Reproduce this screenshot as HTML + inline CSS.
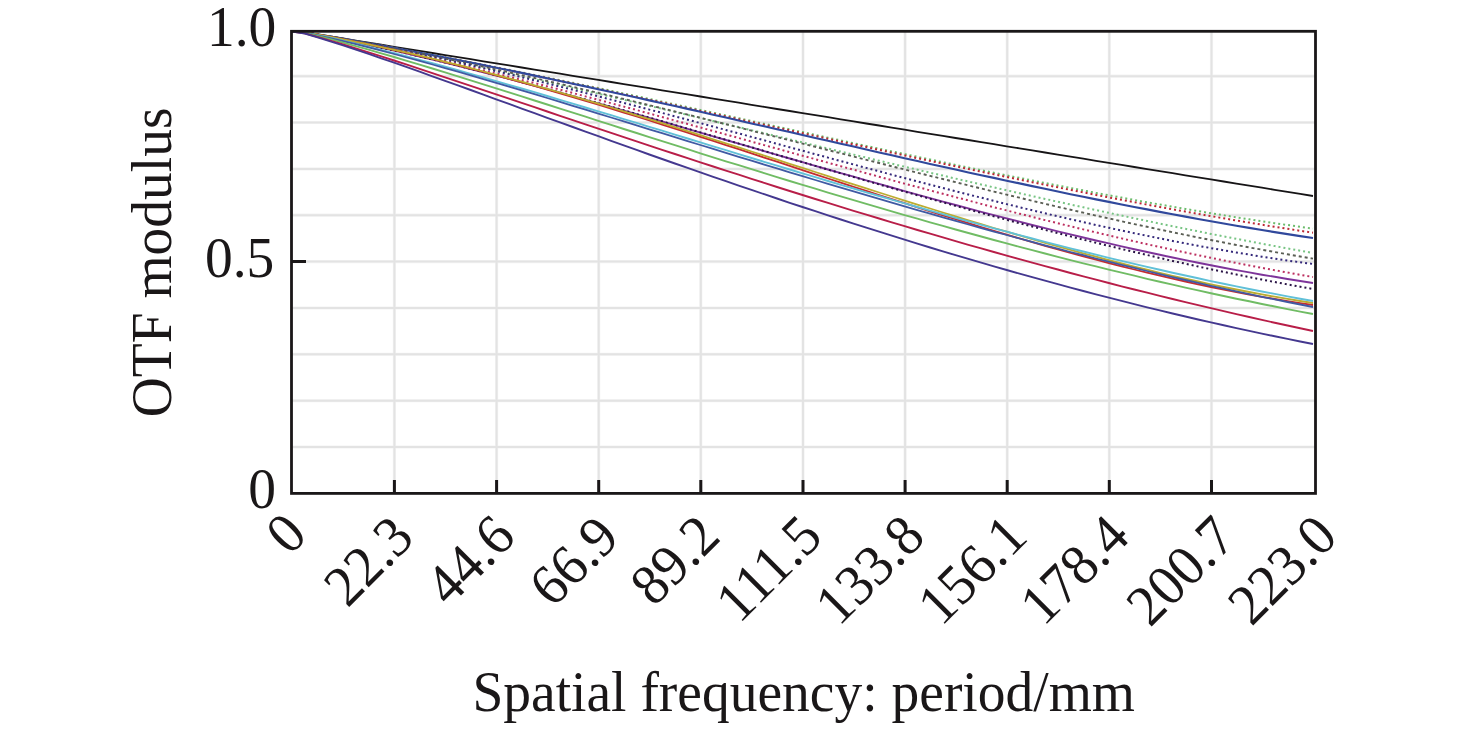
<!DOCTYPE html>
<html><head><meta charset="utf-8"><style>
html,body{margin:0;padding:0;background:#fff;}
body{width:1476px;height:729px;overflow:hidden;}
svg{display:block;}
.t{font-family:"Liberation Serif",serif;font-size:55.5px;fill:#1a1718;}
.x{font-family:"Liberation Serif",serif;font-size:55.5px;fill:#1a1718;}
</style></head><body>
<svg width="1476" height="729" viewBox="0 0 1476 729">
<line x1="394.4" y1="31.3" x2="394.4" y2="493.4" stroke="#f4f4f4" stroke-width="3.2"/>
<line x1="496.6" y1="31.3" x2="496.6" y2="493.4" stroke="#f4f4f4" stroke-width="3.2"/>
<line x1="598.7" y1="31.3" x2="598.7" y2="493.4" stroke="#f4f4f4" stroke-width="3.2"/>
<line x1="700.8" y1="31.3" x2="700.8" y2="493.4" stroke="#f4f4f4" stroke-width="3.2"/>
<line x1="803.0" y1="31.3" x2="803.0" y2="493.4" stroke="#f4f4f4" stroke-width="3.2"/>
<line x1="905.1" y1="31.3" x2="905.1" y2="493.4" stroke="#f4f4f4" stroke-width="3.2"/>
<line x1="1007.2" y1="31.3" x2="1007.2" y2="493.4" stroke="#f4f4f4" stroke-width="3.2"/>
<line x1="1109.3" y1="31.3" x2="1109.3" y2="493.4" stroke="#f4f4f4" stroke-width="3.2"/>
<line x1="1211.5" y1="31.3" x2="1211.5" y2="493.4" stroke="#f4f4f4" stroke-width="3.2"/>
<line x1="291.5" y1="76.2" x2="1315.5" y2="76.2" stroke="#f4f4f4" stroke-width="3.2"/>
<line x1="291.5" y1="122.5" x2="1315.5" y2="122.5" stroke="#f4f4f4" stroke-width="3.2"/>
<line x1="291.5" y1="168.9" x2="1315.5" y2="168.9" stroke="#f4f4f4" stroke-width="3.2"/>
<line x1="291.5" y1="215.2" x2="1315.5" y2="215.2" stroke="#f4f4f4" stroke-width="3.2"/>
<line x1="291.5" y1="261.6" x2="1315.5" y2="261.6" stroke="#f4f4f4" stroke-width="3.2"/>
<line x1="291.5" y1="308.0" x2="1315.5" y2="308.0" stroke="#f4f4f4" stroke-width="3.2"/>
<line x1="291.5" y1="354.3" x2="1315.5" y2="354.3" stroke="#f4f4f4" stroke-width="3.2"/>
<line x1="291.5" y1="400.7" x2="1315.5" y2="400.7" stroke="#f4f4f4" stroke-width="3.2"/>
<line x1="291.5" y1="447.0" x2="1315.5" y2="447.0" stroke="#f4f4f4" stroke-width="3.2"/>
<line x1="394.4" y1="31.3" x2="394.4" y2="493.4" stroke="#e3e3e3" stroke-width="2"/>
<line x1="496.6" y1="31.3" x2="496.6" y2="493.4" stroke="#e3e3e3" stroke-width="2"/>
<line x1="598.7" y1="31.3" x2="598.7" y2="493.4" stroke="#e3e3e3" stroke-width="2"/>
<line x1="700.8" y1="31.3" x2="700.8" y2="493.4" stroke="#e3e3e3" stroke-width="2"/>
<line x1="803.0" y1="31.3" x2="803.0" y2="493.4" stroke="#e3e3e3" stroke-width="2"/>
<line x1="905.1" y1="31.3" x2="905.1" y2="493.4" stroke="#e3e3e3" stroke-width="2"/>
<line x1="1007.2" y1="31.3" x2="1007.2" y2="493.4" stroke="#e3e3e3" stroke-width="2"/>
<line x1="1109.3" y1="31.3" x2="1109.3" y2="493.4" stroke="#e3e3e3" stroke-width="2"/>
<line x1="1211.5" y1="31.3" x2="1211.5" y2="493.4" stroke="#e3e3e3" stroke-width="2"/>
<line x1="291.5" y1="76.2" x2="1315.5" y2="76.2" stroke="#e3e3e3" stroke-width="2"/>
<line x1="291.5" y1="122.5" x2="1315.5" y2="122.5" stroke="#e3e3e3" stroke-width="2"/>
<line x1="291.5" y1="168.9" x2="1315.5" y2="168.9" stroke="#e3e3e3" stroke-width="2"/>
<line x1="291.5" y1="215.2" x2="1315.5" y2="215.2" stroke="#e3e3e3" stroke-width="2"/>
<line x1="291.5" y1="261.6" x2="1315.5" y2="261.6" stroke="#e3e3e3" stroke-width="2"/>
<line x1="291.5" y1="308.0" x2="1315.5" y2="308.0" stroke="#e3e3e3" stroke-width="2"/>
<line x1="291.5" y1="354.3" x2="1315.5" y2="354.3" stroke="#e3e3e3" stroke-width="2"/>
<line x1="291.5" y1="400.7" x2="1315.5" y2="400.7" stroke="#e3e3e3" stroke-width="2"/>
<line x1="291.5" y1="447.0" x2="1315.5" y2="447.0" stroke="#e3e3e3" stroke-width="2"/>
<polyline points="292.0,31.5 304.8,32.3 317.5,34.3 330.3,36.4 343.1,38.5 355.8,40.6 368.6,42.6 381.3,44.7 394.1,46.8 406.9,48.9 419.6,50.9 432.4,53.0 445.1,55.1 457.9,57.1 470.7,59.2 483.4,61.3 496.2,63.4 509.0,65.4 521.7,67.5 534.5,69.6 547.2,71.7 560.0,73.7 572.8,75.8 585.5,77.9 598.3,79.9 611.1,82.0 623.8,84.1 636.6,86.2 649.3,88.2 662.1,90.3 674.9,92.4 687.6,94.4 700.4,96.5 713.2,98.6 725.9,100.7 738.7,102.7 751.5,104.8 764.2,106.9 777.0,109.0 789.7,111.0 802.5,113.1 815.3,115.2 828.0,117.2 840.8,119.3 853.6,121.4 866.3,123.5 879.1,125.5 891.8,127.6 904.6,129.7 917.4,131.8 930.1,133.8 942.9,135.9 955.6,138.0 968.4,140.0 981.2,142.1 993.9,144.2 1006.7,146.3 1019.5,148.3 1032.2,150.4 1045.0,152.5 1057.8,154.6 1070.5,156.6 1083.3,158.7 1096.0,160.8 1108.8,162.8 1121.6,164.9 1134.3,167.0 1147.1,169.1 1159.8,171.1 1172.6,173.2 1185.4,175.3 1198.1,177.3 1210.9,179.4 1223.7,181.5 1236.4,183.6 1249.2,185.6 1261.9,187.7 1274.7,189.8 1287.5,191.9 1300.2,193.9 1313.0,196.0" fill="none" stroke="#161416" stroke-width="1.8"/>
<polyline points="292.0,31.5 304.8,32.3 317.5,34.4 330.3,36.6 343.1,38.7 355.8,41.0 368.6,43.2 381.3,45.5 394.1,47.8 406.9,50.1 419.6,52.5 432.4,54.9 445.1,57.3 457.9,59.8 470.7,62.2 483.4,64.7 496.2,67.2 509.0,69.8 521.7,72.3 534.5,74.9 547.2,77.5 560.0,80.2 572.8,82.8 585.5,85.5 598.3,88.1 611.1,90.8 623.8,93.5 636.6,96.2 649.3,98.9 662.1,101.7 674.9,104.4 687.6,107.2 700.4,109.9 713.2,112.7 725.9,115.5 738.7,118.2 751.5,121.0 764.2,123.8 777.0,126.6 789.7,129.3 802.5,132.1 815.3,134.9 828.0,137.7 840.8,140.4 853.6,143.2 866.3,145.9 879.1,148.7 891.8,151.4 904.6,154.1 917.4,156.8 930.1,159.5 942.9,162.2 955.6,164.9 968.4,167.5 981.2,170.2 993.9,172.8 1006.7,175.4 1019.5,177.9 1032.2,180.5 1045.0,183.0 1057.8,185.5 1070.5,188.0 1083.3,190.4 1096.0,192.9 1108.8,195.3 1121.6,197.6 1134.3,200.0 1147.1,202.3 1159.8,204.5 1172.6,206.7 1185.4,208.9 1198.1,211.1 1210.9,213.2 1223.7,215.3 1236.4,217.3 1249.2,219.3 1261.9,221.3 1274.7,223.2 1287.5,225.0 1300.2,226.8 1313.0,228.6" fill="none" stroke="#6cbc6c" stroke-width="2.0" stroke-dasharray="2 3"/>
<polyline points="292.0,31.5 304.8,32.3 317.5,34.4 330.3,36.6 343.1,38.8 355.8,41.0 368.6,43.3 381.3,45.6 394.1,48.0 406.9,50.3 419.6,52.7 432.4,55.2 445.1,57.6 457.9,60.1 470.7,62.6 483.4,65.2 496.2,67.7 509.0,70.3 521.7,72.9 534.5,75.5 547.2,78.1 560.0,80.8 572.8,83.5 585.5,86.1 598.3,88.8 611.1,91.6 623.8,94.3 636.6,97.0 649.3,99.8 662.1,102.5 674.9,105.3 687.6,108.1 700.4,110.9 713.2,113.6 725.9,116.4 738.7,119.2 751.5,122.0 764.2,124.8 777.0,127.6 789.7,130.4 802.5,133.2 815.3,136.0 828.0,138.8 840.8,141.6 853.6,144.4 866.3,147.1 879.1,149.9 891.8,152.7 904.6,155.4 917.4,158.2 930.1,160.9 942.9,163.6 955.6,166.3 968.4,169.0 981.2,171.7 993.9,174.3 1006.7,177.0 1019.5,179.6 1032.2,182.2 1045.0,184.8 1057.8,187.3 1070.5,189.9 1083.3,192.4 1096.0,194.9 1108.8,197.4 1121.6,199.8 1134.3,202.2 1147.1,204.6 1159.8,207.0 1172.6,209.3 1185.4,211.6 1198.1,213.9 1210.9,216.1 1223.7,218.3 1236.4,220.5 1249.2,222.6 1261.9,224.7 1274.7,226.8 1287.5,228.8 1300.2,230.8 1313.0,232.7" fill="none" stroke="#bc2834" stroke-width="2.0" stroke-dasharray="2 3"/>
<polyline points="292.0,31.5 304.8,32.3 317.5,34.4 330.3,36.6 343.1,38.8 355.8,41.0 368.6,43.3 381.3,45.6 394.1,47.9 406.9,50.3 419.6,52.7 432.4,55.1 445.1,57.6 457.9,60.0 470.7,62.6 483.4,65.1 496.2,67.7 509.0,70.3 521.7,72.9 534.5,75.6 547.2,78.3 560.0,81.0 572.8,83.7 585.5,86.4 598.3,89.2 611.1,92.0 623.8,94.7 636.6,97.6 649.3,100.4 662.1,103.2 674.9,106.1 687.6,108.9 700.4,111.8 713.2,114.7 725.9,117.6 738.7,120.5 751.5,123.4 764.2,126.3 777.0,129.2 789.7,132.1 802.5,135.0 815.3,137.9 828.0,140.8 840.8,143.7 853.6,146.6 866.3,149.5 879.1,152.4 891.8,155.3 904.6,158.2 917.4,161.0 930.1,163.9 942.9,166.7 955.6,169.5 968.4,172.4 981.2,175.2 993.9,177.9 1006.7,180.7 1019.5,183.4 1032.2,186.1 1045.0,188.8 1057.8,191.5 1070.5,194.2 1083.3,196.8 1096.0,199.4 1108.8,201.9 1121.6,204.5 1134.3,207.0 1147.1,209.4 1159.8,211.9 1172.6,214.3 1185.4,216.6 1198.1,219.0 1210.9,221.3 1223.7,223.5 1236.4,225.7 1249.2,227.9 1261.9,230.0 1274.7,232.1 1287.5,234.1 1300.2,236.1 1313.0,238.0" fill="none" stroke="#30489c" stroke-width="2.1"/>
<polyline points="292.0,31.5 304.8,32.3 317.5,34.5 330.3,36.8 343.1,39.2 355.8,41.6 368.6,44.0 381.3,46.5 394.1,49.1 406.9,51.6 419.6,54.2 432.4,56.9 445.1,59.6 457.9,62.3 470.7,65.0 483.4,67.8 496.2,70.6 509.0,73.5 521.7,76.3 534.5,79.2 547.2,82.1 560.0,85.0 572.8,87.9 585.5,90.9 598.3,93.8 611.1,96.8 623.8,99.8 636.6,102.8 649.3,105.8 662.1,108.8 674.9,111.9 687.6,114.9 700.4,117.9 713.2,121.0 725.9,124.1 738.7,127.1 751.5,130.2 764.2,133.2 777.0,136.3 789.7,139.3 802.5,142.4 815.3,145.5 828.0,148.5 840.8,151.6 853.6,154.6 866.3,157.6 879.1,160.7 891.8,163.7 904.6,166.7 917.4,169.7 930.1,172.7 942.9,175.6 955.6,178.6 968.4,181.5 981.2,184.5 993.9,187.4 1006.7,190.3 1019.5,193.2 1032.2,196.1 1045.0,198.9 1057.8,201.7 1070.5,204.5 1083.3,207.3 1096.0,210.1 1108.8,212.8 1121.6,215.6 1134.3,218.3 1147.1,220.9 1159.8,223.6 1172.6,226.2 1185.4,228.8 1198.1,231.3 1210.9,233.9 1223.7,236.4 1236.4,238.8 1249.2,241.3 1261.9,243.7 1274.7,246.1 1287.5,248.4 1300.2,250.7 1313.0,253.0" fill="none" stroke="#78c484" stroke-width="2.0" stroke-dasharray="2 3"/>
<polyline points="292.0,31.5 304.8,32.3 317.5,34.4 330.3,36.6 343.1,38.9 355.8,41.2 368.6,43.5 381.3,45.9 394.1,48.4 406.9,50.9 419.6,53.4 432.4,56.0 445.1,58.6 457.9,61.3 470.7,64.0 483.4,66.7 496.2,69.5 509.0,72.3 521.7,75.2 534.5,78.0 547.2,81.0 560.0,83.9 572.8,86.9 585.5,89.9 598.3,92.9 611.1,95.9 623.8,99.0 636.6,102.1 649.3,105.2 662.1,108.3 674.9,111.5 687.6,114.6 700.4,117.8 713.2,121.0 725.9,124.2 738.7,127.4 751.5,130.7 764.2,133.9 777.0,137.1 789.7,140.4 802.5,143.6 815.3,146.8 828.0,150.1 840.8,153.3 853.6,156.6 866.3,159.8 879.1,163.0 891.8,166.3 904.6,169.5 917.4,172.7 930.1,175.9 942.9,179.0 955.6,182.2 968.4,185.4 981.2,188.5 993.9,191.6 1006.7,194.7 1019.5,197.7 1032.2,200.8 1045.0,203.8 1057.8,206.8 1070.5,209.7 1083.3,212.7 1096.0,215.6 1108.8,218.4 1121.6,221.3 1134.3,224.1 1147.1,226.8 1159.8,229.6 1172.6,232.2 1185.4,234.9 1198.1,237.5 1210.9,240.0 1223.7,242.5 1236.4,245.0 1249.2,247.4 1261.9,249.7 1274.7,252.0 1287.5,254.3 1300.2,256.5 1313.0,258.6" fill="none" stroke="#5a5e54" stroke-width="1.9" stroke-dasharray="3 3"/>
<polyline points="292.0,31.5 304.8,32.3 317.5,34.5 330.3,36.7 343.1,39.0 355.8,41.4 368.6,43.8 381.3,46.3 394.1,48.9 406.9,51.5 419.6,54.1 432.4,56.9 445.1,59.6 457.9,62.5 470.7,65.3 483.4,68.2 496.2,71.2 509.0,74.2 521.7,77.3 534.5,80.3 547.2,83.5 560.0,86.6 572.8,89.8 585.5,93.0 598.3,96.3 611.1,99.6 623.8,102.9 636.6,106.2 649.3,109.6 662.1,112.9 674.9,116.3 687.6,119.7 700.4,123.1 713.2,126.6 725.9,130.0 738.7,133.4 751.5,136.9 764.2,140.3 777.0,143.8 789.7,147.3 802.5,150.7 815.3,154.2 828.0,157.6 840.8,161.1 853.6,164.5 866.3,167.9 879.1,171.3 891.8,174.7 904.6,178.0 917.4,181.4 930.1,184.7 942.9,188.0 955.6,191.3 968.4,194.5 981.2,197.7 993.9,200.9 1006.7,204.1 1019.5,207.2 1032.2,210.3 1045.0,213.3 1057.8,216.3 1070.5,219.2 1083.3,222.1 1096.0,225.0 1108.8,227.8 1121.6,230.5 1134.3,233.2 1147.1,235.8 1159.8,238.4 1172.6,240.9 1185.4,243.4 1198.1,245.8 1210.9,248.1 1223.7,250.3 1236.4,252.5 1249.2,254.6 1261.9,256.7 1274.7,258.6 1287.5,260.5 1300.2,262.3 1313.0,264.0" fill="none" stroke="#34287a" stroke-width="2.0" stroke-dasharray="2 3"/>
<polyline points="292.0,31.5 304.8,32.3 317.5,34.6 330.3,36.9 343.1,39.4 355.8,41.9 368.6,44.5 381.3,47.1 394.1,49.9 406.9,52.6 419.6,55.5 432.4,58.4 445.1,61.3 457.9,64.3 470.7,67.3 483.4,70.4 496.2,73.5 509.0,76.7 521.7,79.9 534.5,83.1 547.2,86.4 560.0,89.7 572.8,93.0 585.5,96.4 598.3,99.8 611.1,103.2 623.8,106.6 636.6,110.0 649.3,113.5 662.1,117.0 674.9,120.5 687.6,124.0 700.4,127.5 713.2,131.0 725.9,134.5 738.7,138.0 751.5,141.6 764.2,145.1 777.0,148.6 789.7,152.2 802.5,155.7 815.3,159.2 828.0,162.7 840.8,166.2 853.6,169.7 866.3,173.2 879.1,176.7 891.8,180.2 904.6,183.6 917.4,187.0 930.1,190.4 942.9,193.8 955.6,197.2 968.4,200.5 981.2,203.9 993.9,207.2 1006.7,210.4 1019.5,213.7 1032.2,216.9 1045.0,220.1 1057.8,223.2 1070.5,226.3 1083.3,229.4 1096.0,232.4 1108.8,235.4 1121.6,238.4 1134.3,241.3 1147.1,244.2 1159.8,247.0 1172.6,249.8 1185.4,252.5 1198.1,255.2 1210.9,257.8 1223.7,260.4 1236.4,263.0 1249.2,265.4 1261.9,267.9 1274.7,270.2 1287.5,272.5 1300.2,274.8 1313.0,277.0" fill="none" stroke="#bc3060" stroke-width="2.0" stroke-dasharray="2 3"/>
<polyline points="292.0,31.5 304.8,32.4 317.5,34.7 330.3,37.1 343.1,39.6 355.8,42.2 368.6,44.9 381.3,47.7 394.1,50.6 406.9,53.5 419.6,56.5 432.4,59.5 445.1,62.6 457.9,65.8 470.7,69.0 483.4,72.3 496.2,75.6 509.0,78.9 521.7,82.3 534.5,85.8 547.2,89.2 560.0,92.7 572.8,96.2 585.5,99.8 598.3,103.4 611.1,107.0 623.8,110.6 636.6,114.2 649.3,117.9 662.1,121.5 674.9,125.2 687.6,128.9 700.4,132.6 713.2,136.3 725.9,140.0 738.7,143.7 751.5,147.4 764.2,151.1 777.0,154.8 789.7,158.5 802.5,162.1 815.3,165.8 828.0,169.5 840.8,173.1 853.6,176.7 866.3,180.3 879.1,183.9 891.8,187.5 904.6,191.1 917.4,194.6 930.1,198.1 942.9,201.6 955.6,205.0 968.4,208.4 981.2,211.8 993.9,215.1 1006.7,218.4 1019.5,221.7 1032.2,225.0 1045.0,228.1 1057.8,231.3 1070.5,234.4 1083.3,237.5 1096.0,240.5 1108.8,243.4 1121.6,246.4 1134.3,249.2 1147.1,252.0 1159.8,254.8 1172.6,257.5 1185.4,260.1 1198.1,262.7 1210.9,265.2 1223.7,267.7 1236.4,270.1 1249.2,272.4 1261.9,274.7 1274.7,276.8 1287.5,279.0 1300.2,281.0 1313.0,283.0" fill="none" stroke="#7e349a" stroke-width="1.9"/>
<polyline points="292.0,31.5 304.8,32.4 317.5,34.7 330.3,37.1 343.1,39.6 355.8,42.2 368.6,44.9 381.3,47.7 394.1,50.5 406.9,53.4 419.6,56.4 432.4,59.4 445.1,62.5 457.9,65.7 470.7,68.9 483.4,72.1 496.2,75.4 509.0,78.7 521.7,82.1 534.5,85.5 547.2,89.0 560.0,92.5 572.8,96.0 585.5,99.5 598.3,103.1 611.1,106.7 623.8,110.3 636.6,114.0 649.3,117.6 662.1,121.3 674.9,125.0 687.6,128.7 700.4,132.4 713.2,136.1 725.9,139.8 738.7,143.6 751.5,147.3 764.2,151.0 777.0,154.8 789.7,158.5 802.5,162.2 815.3,165.9 828.0,169.6 840.8,173.3 853.6,177.0 866.3,180.7 879.1,184.4 891.8,188.0 904.6,191.6 917.4,195.2 930.1,198.8 942.9,202.4 955.6,205.9 968.4,209.4 981.2,212.9 993.9,216.4 1006.7,219.8 1019.5,223.2 1032.2,226.5 1045.0,229.9 1057.8,233.2 1070.5,236.4 1083.3,239.6 1096.0,242.8 1108.8,245.9 1121.6,249.0 1134.3,252.0 1147.1,255.0 1159.8,258.0 1172.6,260.9 1185.4,263.7 1198.1,266.5 1210.9,269.2 1223.7,271.9 1236.4,274.5 1249.2,277.1 1261.9,279.6 1274.7,282.0 1287.5,284.4 1300.2,286.7 1313.0,289.0" fill="none" stroke="#2a1446" stroke-width="2.0" stroke-dasharray="2 3"/>
<polyline points="292.0,31.5 304.8,32.3 317.5,34.6 330.3,36.9 343.1,39.3 355.8,41.9 368.6,44.5 381.3,47.2 394.1,50.0 406.9,52.9 419.6,55.9 432.4,58.9 445.1,62.1 457.9,65.3 470.7,68.6 483.4,71.9 496.2,75.3 509.0,78.8 521.7,82.4 534.5,86.0 547.2,89.6 560.0,93.3 572.8,97.1 585.5,100.9 598.3,104.7 611.1,108.6 623.8,112.6 636.6,116.5 649.3,120.5 662.1,124.6 674.9,128.6 687.6,132.7 700.4,136.8 713.2,140.9 725.9,145.1 738.7,149.2 751.5,153.4 764.2,157.6 777.0,161.7 789.7,165.9 802.5,170.1 815.3,174.3 828.0,178.5 840.8,182.6 853.6,186.8 866.3,190.9 879.1,195.0 891.8,199.1 904.6,203.2 917.4,207.3 930.1,211.3 942.9,215.3 955.6,219.2 968.4,223.1 981.2,227.0 993.9,230.9 1006.7,234.7 1019.5,238.4 1032.2,242.1 1045.0,245.8 1057.8,249.3 1070.5,252.9 1083.3,256.3 1096.0,259.7 1108.8,263.1 1121.6,266.3 1134.3,269.5 1147.1,272.6 1159.8,275.7 1172.6,278.6 1185.4,281.5 1198.1,284.3 1210.9,287.0 1223.7,289.6 1236.4,292.1 1249.2,294.5 1261.9,296.8 1274.7,299.0 1287.5,301.1 1300.2,303.1 1313.0,305.0" fill="none" stroke="#c42c30" stroke-width="1.8"/>
<polyline points="292.0,31.5 304.8,32.3 317.5,34.5 330.3,36.9 343.1,39.3 355.8,41.8 368.6,44.4 381.3,47.1 394.1,49.9 406.9,52.7 419.6,55.7 432.4,58.7 445.1,61.8 457.9,64.9 470.7,68.2 483.4,71.5 496.2,74.8 509.0,78.3 521.7,81.7 534.5,85.3 547.2,88.9 560.0,92.5 572.8,96.2 585.5,99.9 598.3,103.7 611.1,107.5 623.8,111.4 636.6,115.3 649.3,119.2 662.1,123.2 674.9,127.2 687.6,131.2 700.4,135.2 713.2,139.3 725.9,143.3 738.7,147.4 751.5,151.5 764.2,155.6 777.0,159.7 789.7,163.8 802.5,167.9 815.3,172.0 828.0,176.2 840.8,180.3 853.6,184.3 866.3,188.4 879.1,192.5 891.8,196.5 904.6,200.6 917.4,204.6 930.1,208.5 942.9,212.5 955.6,216.4 968.4,220.3 981.2,224.1 993.9,228.0 1006.7,231.7 1019.5,235.4 1032.2,239.1 1045.0,242.8 1057.8,246.3 1070.5,249.9 1083.3,253.3 1096.0,256.7 1108.8,260.1 1121.6,263.4 1134.3,266.6 1147.1,269.7 1159.8,272.8 1172.6,275.8 1185.4,278.7 1198.1,281.5 1210.9,284.3 1223.7,287.0 1236.4,289.5 1249.2,292.0 1261.9,294.4 1274.7,296.7 1287.5,298.9 1300.2,301.0 1313.0,303.0" fill="none" stroke="#bcac30" stroke-width="1.8"/>
<polyline points="292.0,31.5 304.8,32.5 317.5,35.1 330.3,37.8 343.1,40.7 355.8,43.6 368.6,46.7 381.3,49.9 394.1,53.1 406.9,56.4 419.6,59.8 432.4,63.2 445.1,66.7 457.9,70.2 470.7,73.8 483.4,77.4 496.2,81.1 509.0,84.8 521.7,88.5 534.5,92.2 547.2,96.0 560.0,99.8 572.8,103.6 585.5,107.5 598.3,111.3 611.1,115.2 623.8,119.1 636.6,122.9 649.3,126.8 662.1,130.7 674.9,134.6 687.6,138.5 700.4,142.4 713.2,146.3 725.9,150.2 738.7,154.1 751.5,158.0 764.2,161.8 777.0,165.7 789.7,169.5 802.5,173.4 815.3,177.2 828.0,181.0 840.8,184.8 853.6,188.5 866.3,192.3 879.1,196.0 891.8,199.7 904.6,203.4 917.4,207.0 930.1,210.6 942.9,214.2 955.6,217.8 968.4,221.3 981.2,224.8 993.9,228.3 1006.7,231.7 1019.5,235.1 1032.2,238.5 1045.0,241.8 1057.8,245.1 1070.5,248.3 1083.3,251.5 1096.0,254.7 1108.8,257.8 1121.6,260.9 1134.3,263.9 1147.1,266.9 1159.8,269.8 1172.6,272.7 1185.4,275.5 1198.1,278.3 1210.9,281.1 1223.7,283.7 1236.4,286.4 1249.2,289.0 1261.9,291.5 1274.7,293.9 1287.5,296.4 1300.2,298.7 1313.0,301.0" fill="none" stroke="#60c0d8" stroke-width="1.9"/>
<polyline points="292.0,31.5 304.8,32.6 317.5,35.3 330.3,38.1 343.1,41.1 355.8,44.2 368.6,47.4 381.3,50.7 394.1,54.0 406.9,57.5 419.6,60.9 432.4,64.5 445.1,68.1 457.9,71.7 470.7,75.4 483.4,79.1 496.2,82.8 509.0,86.6 521.7,90.4 534.5,94.2 547.2,98.0 560.0,101.9 572.8,105.8 585.5,109.7 598.3,113.6 611.1,117.5 623.8,121.4 636.6,125.3 649.3,129.3 662.1,133.2 674.9,137.1 687.6,141.1 700.4,145.0 713.2,148.9 725.9,152.8 738.7,156.8 751.5,160.7 764.2,164.6 777.0,168.4 789.7,172.3 802.5,176.2 815.3,180.0 828.0,183.8 840.8,187.6 853.6,191.4 866.3,195.2 879.1,198.9 891.8,202.7 904.6,206.4 917.4,210.1 930.1,213.7 942.9,217.3 955.6,220.9 968.4,224.5 981.2,228.1 993.9,231.6 1006.7,235.0 1019.5,238.5 1032.2,241.9 1045.0,245.3 1057.8,248.6 1070.5,252.0 1083.3,255.2 1096.0,258.5 1108.8,261.7 1121.6,264.8 1134.3,267.9 1147.1,271.0 1159.8,274.1 1172.6,277.1 1185.4,280.0 1198.1,282.9 1210.9,285.8 1223.7,288.6 1236.4,291.4 1249.2,294.1 1261.9,296.8 1274.7,299.4 1287.5,302.0 1300.2,304.5 1313.0,307.0" fill="none" stroke="#405aa4" stroke-width="1.8"/>
<polyline points="292.0,31.5 304.8,32.9 317.5,36.0 330.3,39.2 343.1,42.6 355.8,46.1 368.6,49.7 381.3,53.3 394.1,57.0 406.9,60.8 419.6,64.7 432.4,68.5 445.1,72.4 457.9,76.4 470.7,80.3 483.4,84.3 496.2,88.3 509.0,92.4 521.7,96.4 534.5,100.5 547.2,104.5 560.0,108.6 572.8,112.7 585.5,116.7 598.3,120.8 611.1,124.9 623.8,129.0 636.6,133.0 649.3,137.1 662.1,141.2 674.9,145.2 687.6,149.2 700.4,153.3 713.2,157.3 725.9,161.3 738.7,165.2 751.5,169.2 764.2,173.1 777.0,177.1 789.7,181.0 802.5,184.9 815.3,188.7 828.0,192.6 840.8,196.4 853.6,200.2 866.3,203.9 879.1,207.7 891.8,211.4 904.6,215.1 917.4,218.7 930.1,222.3 942.9,225.9 955.6,229.5 968.4,233.0 981.2,236.5 993.9,240.0 1006.7,243.4 1019.5,246.8 1032.2,250.2 1045.0,253.5 1057.8,256.8 1070.5,260.1 1083.3,263.3 1096.0,266.4 1108.8,269.6 1121.6,272.7 1134.3,275.7 1147.1,278.8 1159.8,281.7 1172.6,284.7 1185.4,287.6 1198.1,290.4 1210.9,293.2 1223.7,296.0 1236.4,298.7 1249.2,301.3 1261.9,304.0 1274.7,306.5 1287.5,309.1 1300.2,311.6 1313.0,314.0" fill="none" stroke="#70bc64" stroke-width="1.9"/>
<polyline points="292.0,31.5 304.8,33.4 317.5,36.9 330.3,40.6 343.1,44.4 355.8,48.4 368.6,52.4 381.3,56.4 394.1,60.5 406.9,64.7 419.6,68.9 432.4,73.1 445.1,77.3 457.9,81.6 470.7,85.8 483.4,90.1 496.2,94.4 509.0,98.6 521.7,102.9 534.5,107.2 547.2,111.5 560.0,115.8 572.8,120.1 585.5,124.3 598.3,128.6 611.1,132.9 623.8,137.1 636.6,141.4 649.3,145.6 662.1,149.8 674.9,154.0 687.6,158.2 700.4,162.4 713.2,166.5 725.9,170.6 738.7,174.7 751.5,178.8 764.2,182.9 777.0,187.0 789.7,191.0 802.5,195.0 815.3,199.0 828.0,202.9 840.8,206.9 853.6,210.8 866.3,214.7 879.1,218.5 891.8,222.4 904.6,226.2 917.4,230.0 930.1,233.7 942.9,237.4 955.6,241.1 968.4,244.8 981.2,248.4 993.9,252.0 1006.7,255.6 1019.5,259.1 1032.2,262.6 1045.0,266.1 1057.8,269.5 1070.5,273.0 1083.3,276.3 1096.0,279.7 1108.8,283.0 1121.6,286.3 1134.3,289.5 1147.1,292.7 1159.8,295.9 1172.6,299.0 1185.4,302.1 1198.1,305.2 1210.9,308.2 1223.7,311.2 1236.4,314.1 1249.2,317.0 1261.9,319.9 1274.7,322.7 1287.5,325.5 1300.2,328.3 1313.0,331.0" fill="none" stroke="#b81e48" stroke-width="1.9"/>
<polyline points="292.0,31.5 304.8,33.5 317.5,37.3 330.3,41.3 343.1,45.4 355.8,49.6 368.6,53.9 381.3,58.3 394.1,62.7 406.9,67.2 419.6,71.7 432.4,76.3 445.1,80.9 457.9,85.4 470.7,90.0 483.4,94.7 496.2,99.3 509.0,103.9 521.7,108.6 534.5,113.2 547.2,117.8 560.0,122.4 572.8,127.0 585.5,131.6 598.3,136.2 611.1,140.8 623.8,145.4 636.6,149.9 649.3,154.5 662.1,159.0 674.9,163.5 687.6,167.9 700.4,172.4 713.2,176.8 725.9,181.2 738.7,185.6 751.5,189.9 764.2,194.2 777.0,198.5 789.7,202.8 802.5,207.0 815.3,211.2 828.0,215.4 840.8,219.5 853.6,223.6 866.3,227.7 879.1,231.7 891.8,235.7 904.6,239.7 917.4,243.6 930.1,247.5 942.9,251.3 955.6,255.2 968.4,258.9 981.2,262.7 993.9,266.3 1006.7,270.0 1019.5,273.6 1032.2,277.2 1045.0,280.7 1057.8,284.2 1070.5,287.6 1083.3,291.0 1096.0,294.3 1108.8,297.6 1121.6,300.9 1134.3,304.1 1147.1,307.3 1159.8,310.4 1172.6,313.5 1185.4,316.5 1198.1,319.5 1210.9,322.4 1223.7,325.3 1236.4,328.1 1249.2,330.9 1261.9,333.6 1274.7,336.3 1287.5,338.9 1300.2,341.5 1313.0,344.0" fill="none" stroke="#44388f" stroke-width="1.9"/>
<line x1="394.4" y1="480" x2="394.4" y2="493.4" stroke="#1a1718" stroke-width="3"/>
<line x1="496.6" y1="480" x2="496.6" y2="493.4" stroke="#1a1718" stroke-width="3"/>
<line x1="598.7" y1="480" x2="598.7" y2="493.4" stroke="#1a1718" stroke-width="3"/>
<line x1="700.8" y1="480" x2="700.8" y2="493.4" stroke="#1a1718" stroke-width="3"/>
<line x1="803.0" y1="480" x2="803.0" y2="493.4" stroke="#1a1718" stroke-width="3"/>
<line x1="905.1" y1="480" x2="905.1" y2="493.4" stroke="#1a1718" stroke-width="3"/>
<line x1="1007.2" y1="480" x2="1007.2" y2="493.4" stroke="#1a1718" stroke-width="3"/>
<line x1="1109.3" y1="480" x2="1109.3" y2="493.4" stroke="#1a1718" stroke-width="3"/>
<line x1="1211.5" y1="480" x2="1211.5" y2="493.4" stroke="#1a1718" stroke-width="3"/>
<line x1="291.5" y1="261.5" x2="306" y2="261.5" stroke="#1a1718" stroke-width="3"/>
<rect x="291.5" y="31.3" width="1024.0" height="462.09999999999997" fill="none" stroke="#1a1718" stroke-width="2.8"/>
<text x="0" y="0" text-anchor="end" class="t" transform="translate(276.3 45.8) scale(1 1.035)">1.0</text>
<text x="0" y="0" text-anchor="end" class="t" transform="translate(274.3 276.9) scale(1 1.035)">0.5</text>
<text x="0" y="0" text-anchor="end" class="t" transform="translate(276.0 508.4) scale(1 1.035)">0</text>
<text x="0" y="0" text-anchor="end" class="x" transform="translate(309.2 537.0) rotate(-45) scale(1 1.035)">0</text>
<text x="0" y="0" text-anchor="end" class="x" transform="translate(416.1 540.0) rotate(-45) scale(1 1.035)">22.3</text>
<text x="0" y="0" text-anchor="end" class="x" transform="translate(517.5 539.0) rotate(-45) scale(1 1.035)">44.6</text>
<text x="0" y="0" text-anchor="end" class="x" transform="translate(621.4 540.0) rotate(-45) scale(1 1.035)">66.9</text>
<text x="0" y="0" text-anchor="end" class="x" transform="translate(722.3 539.0) rotate(-45) scale(1 1.035)">89.2</text>
<text x="0" y="0" text-anchor="end" class="x" transform="translate(824.7 539.0) rotate(-45) scale(1 1.035)">111.5</text>
<text x="0" y="0" text-anchor="end" class="x" transform="translate(927.1 539.0) rotate(-45) scale(1 1.035)">133.8</text>
<text x="0" y="0" text-anchor="end" class="x" transform="translate(1029.5 539.0) rotate(-45) scale(1 1.035)">156.1</text>
<text x="0" y="0" text-anchor="end" class="x" transform="translate(1131.9 539.0) rotate(-45) scale(1 1.035)">178.4</text>
<text x="0" y="0" text-anchor="end" class="x" transform="translate(1238.3 540.0) rotate(-45) scale(1 1.035)">200.7</text>
<text x="0" y="0" text-anchor="end" class="x" transform="translate(1339.7 539.0) rotate(-45) scale(1 1.035)">223.0</text>
<text x="0" y="0" text-anchor="middle" class="t" transform="translate(170.6 262.4) rotate(-90) scale(1 1.035)">OTF modulus</text>
<text x="0" y="0" text-anchor="middle" class="t" transform="translate(803.7 710.6) scale(1 1.035)">Spatial frequency: period/mm</text>
</svg>
</body></html>
